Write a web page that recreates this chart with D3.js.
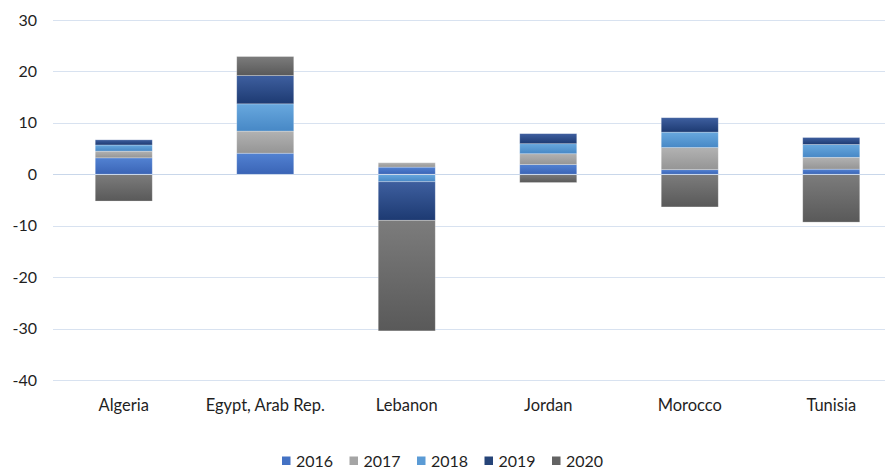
<!DOCTYPE html>
<html>
<head>
<meta charset="utf-8">
<script src="https://cdn.jsdelivr.net/npm/d3@7"></script>
<style>
  html, body { margin: 0; padding: 0; background: #ffffff; }
  svg { display: block; font-family: Lato, "Open Sans", sans-serif; }
</style>
</head>
<body>
<svg id="chart" width="885" height="471"></svg>
<script>
// Country groups along the x axis
const countries = ["Algeria", "Egypt, Arab Rep.", "Lebanon", "Jordan", "Morocco", "Tunisia"];
// One series per year, values aligned with countries
const years = ["2016", "2017", "2018", "2019", "2020"];
const v2016 = [3.2, 4.1, 1.4, 1.9, 0.9, 1.0];
const v2017 = [1.3, 4.3, 0.85, 2.1, 4.3, 2.3];
const v2018 = [1.2, 5.3, -1.45, 1.95, 3.0, 2.5];
const v2019 = [1.0, 5.5, -7.5, 1.95, 2.8, 1.35];
const v2020 = [-5.2, 3.7, -21.5, -1.6, -6.35, -9.3];
const yTicks = [30, 20, 10, 0, -10, -20, -30, -40];

const seriesValues = { "2016": v2016, "2017": v2017, "2018": v2018, "2019": v2019, "2020": v2020 };

// Vertical gradient fills: lighter on top, darker at bottom
const fills = {
  "2016": ["#5282d2", "#3a64b6"],
  "2017": ["#b2b2b2", "#959595"],
  "2018": ["#68a8de", "#4788c6"],
  "2019": ["#3e5f9f", "#1d3a72"],
  "2020": ["#7c7c7c", "#595959"]
};
const legendColor = { "2016": "#4472c4", "2017": "#a5a5a5", "2018": "#5b9bd5", "2019": "#264478", "2020": "#636363" };

const rows = countries.map((c, i) => {
  const r = { country: c };
  years.forEach(y => { r[y] = seriesValues[y][i]; });
  return r;
});

const svg = d3.select("#chart");
const defs = svg.append("defs");
years.forEach(y => {
  const g = defs.append("linearGradient")
    .attr("id", "grad" + y)
    .attr("x1", 0).attr("y1", 0).attr("x2", 0).attr("y2", 1);
  g.append("stop").attr("offset", "0%").attr("stop-color", fills[y][0]);
  g.append("stop").attr("offset", "100%").attr("stop-color", fills[y][1]);
});

const x = d3.scaleBand()
  .domain(countries)
  .range([53, 902])
  .paddingInner(0.597)
  .paddingOuter(0.2985);

const y = d3.scaleLinear().domain([-40, 30]).range([380, 20]);

// Horizontal gridlines
svg.append("g")
  .selectAll("line")
  .data(yTicks)
  .join("line")
  .attr("x1", 53).attr("x2", 902)
  .attr("y1", d => Math.round(y(d)) + 0.5)
  .attr("y2", d => Math.round(y(d)) + 0.5)
  .attr("stroke", "#d8e2f0")
  .attr("stroke-width", 1);

// Y axis tick labels (plain hyphen for negatives)
const yAxis = d3.axisLeft(y).tickValues(yTicks).tickFormat(d => String(d)).tickSize(0).tickPadding(0);
svg.append("g")
  .attr("transform", "translate(37,0)")
  .call(yAxis)
  .call(g => g.select(".domain").remove())
  .call(g => g.selectAll("text")
    .attr("font-family", "Lato, 'Open Sans', sans-serif")
    .attr("font-size", "16px")
    .attr("fill", "#1f1f1f"));

// Stacked bars (positives up, negatives down from zero)
const stacked = d3.stack().keys(years).offset(d3.stackOffsetDiverging)(rows);

svg.append("g")
  .selectAll("g")
  .data(stacked)
  .join("g")
  .attr("fill", d => "url(#grad" + d.key + ")")
  .selectAll("rect")
  .data(d => d)
  .join("rect")
  .attr("x", d => x(d.data.country))
  .attr("width", x.bandwidth())
  .attr("y", d => y(Math.max(d[0], d[1])))
  .attr("height", d => Math.abs(y(d[0]) - y(d[1])))
  .attr("stroke", "rgba(255,255,255,0.35)")
  .attr("stroke-width", 0.75);

// Zero line drawn over the bars, as in the original axis
svg.append("line")
  .attr("x1", 53).attr("x2", 902)
  .attr("y1", Math.round(y(0)) + 0.5).attr("y2", Math.round(y(0)) + 0.5)
  .attr("stroke", "#c9d7ea")
  .attr("stroke-width", 1.2);

// Category labels
const xAxis = d3.axisBottom(x).tickSize(0).tickPadding(0);
svg.append("g")
  .attr("transform", "translate(0,399)")
  .call(xAxis)
  .call(g => g.select(".domain").remove())
  .call(g => g.selectAll("text")
    .attr("font-family", "Lato, 'Open Sans', sans-serif")
    .attr("font-size", "16.5px")
    .attr("fill", "#1f1f1f"));

// Legend
const legend = svg.append("g").attr("transform", "translate(282,461)");
const item = legend.selectAll("g")
  .data(years)
  .join("g")
  .attr("transform", (d, i) => `translate(${i * 67.5},0)`);
item.append("rect")
  .attr("x", 0).attr("y", -4.5)
  .attr("width", 8.5).attr("height", 8.5)
  .attr("fill", d => legendColor[d]);
item.append("text")
  .attr("x", 14).attr("y", 0)
  .attr("dy", "0.35em")
  .attr("font-size", "16px")
  .attr("fill", "#1f1f1f")
  .text(d => d);
</script>
</body>
</html>
